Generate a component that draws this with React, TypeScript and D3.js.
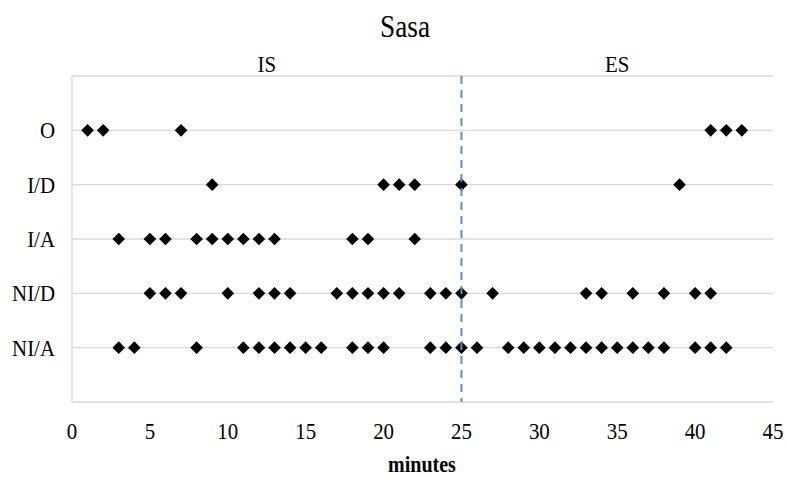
import React from "react";
import * as d3 from "d3";

const categories = ["NI/A", "NI/D", "I/A", "I/D", "O"];
const O = [1, 2, 7, 41, 42, 43];
const ID = [9, 20, 21, 22, 25, 39];
const IA = [3, 5, 6, 8, 9, 10, 11, 12, 13, 18, 19, 22];
const NID = [5, 6, 7, 10, 12, 13, 14, 17, 18, 19, 20, 21, 23, 24, 25, 27, 33, 34, 36, 38, 40, 41];
const NIA = [3, 4, 8, 11, 12, 13, 14, 15, 16, 18, 19, 20, 23, 24, 25, 26, 28, 29, 30, 31, 32, 33, 34, 35, 36, 37, 38, 40, 41, 42];
const seriesByCategory: Record<string, number[]> = { "NI/A": NIA, "NI/D": NID, "I/A": IA, "I/D": ID, O: O };
const xTicks = [0, 5, 10, 15, 20, 25, 30, 35, 40, 45];
const divider = 25;
const sections = [
  { label: "IS", at: 12.5 },
  { label: "ES", at: 35 },
];

const W = 786, H = 477;
const left = 72, right = 773, top = 76, bottom = 402;
const FONT = "Liberation Serif, DejaVu Serif, serif";
const SX = 0.87;

function T({ x, y, size, anchor = "middle", weight = "normal", sx = SX, children }: any) {
  return (
    <text
      transform={`translate(${x},${y}) scale(${sx},1)`}
      textAnchor={anchor}
      style={{ fontFamily: FONT, fontSize: size + "px", fontWeight: weight }}
      fill="#000"
    >
      {children}
    </text>
  );
}

export default function App() {
  const x = d3.scaleLinear().domain([0, 45]).range([left, right]);
  const y = d3.scaleLinear().domain([0, 6]).range([bottom, top]);
  const rowY = (c: string) => y(categories.indexOf(c) + 1);
  const diamond = "M0,-6.3L6.3,0L0,6.3L-6.3,0Z";

  return (
    <svg width={W} height={H} style={{ position: "absolute", left: 0, top: 0, background: "#fff" }}>
      <rect width={W} height={H} fill="#fff" />
      {[1, 2, 3, 4, 5, 6].map((v) => (
        <line key={v} x1={left} x2={right} y1={y(v)} y2={y(v)} stroke="#d9d9d9" strokeWidth={1.3} />
      ))}
      <line x1={left} x2={left} y1={top} y2={bottom} stroke="#d9d9d9" strokeWidth={1.3} />
      <line x1={left} x2={right} y1={bottom} y2={bottom} stroke="#d9d9d9" strokeWidth={1.3} />

      {categories.map((c) =>
        seriesByCategory[c].map((v, i) => (
          <path key={c + i} d={diamond} transform={`translate(${x(v)},${rowY(c)})`} fill="#000" />
        ))
      )}

      <line
        x1={x(divider)}
        x2={x(divider)}
        y1={top}
        y2={bottom}
        stroke="#5B8FCF"
        strokeWidth={2}
        strokeDasharray="8,6"
      />

      {categories.map((c) => (
        <T key={c} x={55} y={rowY(c) + 8} size={24} anchor="end">
          {c}
        </T>
      ))}

      {xTicks.map((t) => (
        <T key={t} x={x(t)} y={439} size={24}>
          {t}
        </T>
      ))}

      <T x={422} y={472} size={23} weight="bold">
        minutes
      </T>

      {sections.map((s) => (
        <T key={s.label} x={x(s.at)} y={72} size={24}>
          {s.label}
        </T>
      ))}

      <T x={405} y={37} size={31} sx={0.88}>
        Sasa
      </T>
    </svg>
  );
}
